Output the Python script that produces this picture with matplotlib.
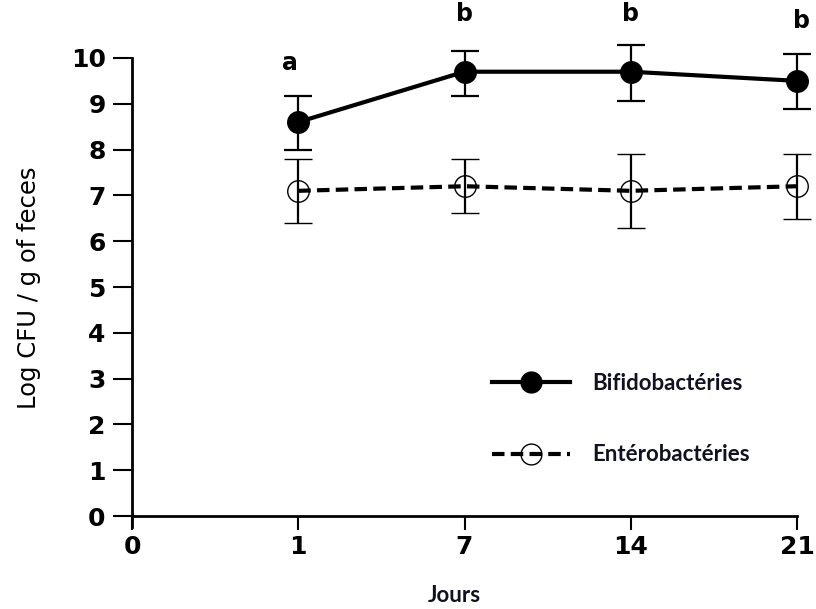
import matplotlib
matplotlib.use('Agg')
import matplotlib.pyplot as plt
from matplotlib.lines import Line2D

# Donnees
jours = ['0', '1', '7', '14', '21']
jours_mesure = ['1', '7', '14', '21']

bifido = [8.6, 9.7, 9.7, 9.5]
bifido_bas = [8.0, 9.17, 9.06, 8.89]
bifido_haut = [9.17, 10.15, 10.28, 10.08]

entero = [7.1, 7.2, 7.1, 7.2]
entero_bas = [6.39, 6.61, 6.29, 6.49]
entero_haut = [7.8, 7.8, 7.9, 7.9]

lettres = ['a', 'b', 'b', 'b']
lettres_y = [9.88, 10.95, 10.95, 10.8]

noms = ['Bifidobactéries', 'Entérobactéries']

fig = plt.figure(figsize=(8.16, 6.09), dpi=100)
ax = fig.add_axes([0.1618, 0.1346, 0.8149, 0.7702])

x = [jours.index(j) for j in jours_mesure]

# Bifidobacteries : trait plein, points pleins
err_b = [[v - b for v, b in zip(bifido, bifido_bas)],
         [h - v for v, h in zip(bifido, bifido_haut)]]
eb = ax.errorbar(x, bifido, yerr=err_b, color='black', lw=3, marker='o',
                 ms=15.5, mfc='black', mec='black', ecolor='black',
                 elinewidth=1.6, capsize=10, capthick=1.6, zorder=3)
for art in eb.get_children():
    art.set_clip_on(False)

# Enterobacteries : tirets, cercles vides
err_e = [[v - b for v, b in zip(entero, entero_bas)],
         [h - v for v, h in zip(entero, entero_haut)]]
ee = ax.errorbar(x, entero, yerr=err_e, color='black', lw=3, ls=(0, (3, 1.5)),
                 marker='o', ms=15.5, mfc='none', mec='black', mew=1.0,
                 ecolor='black', elinewidth=1.6, capsize=10, capthick=1.6,
                 zorder=3)
for art in ee.get_children():
    art.set_clip_on(False)

# lettres de significativite
for xi, lt, ly in zip(x, lettres, lettres_y):
    dx = -0.05 if lt == 'a' else 0.0
    if xi == 4:
        dx = 0.03
    ax.text(xi + dx, ly, lt, ha='center', va='center', fontsize=17,
            fontweight='bold', family='DejaVu Sans', clip_on=False)

ax.set_xlim(0, 4)
ax.set_ylim(-0.24, 10)
ax.set_xticks(range(len(jours)))
ax.set_xticklabels(jours)
ax.set_yticks(range(0, 11))

ax.spines['top'].set_visible(False)
ax.spines['right'].set_visible(False)
ax.spines['bottom'].set_position(('data', 0))
ax.spines['left'].set_linewidth(2)
ax.spines['bottom'].set_linewidth(2)

ax.tick_params(axis='y', direction='out', length=14, width=1.5,
               labelsize=18, pad=5)
ax.tick_params(axis='x', direction='out', length=10, width=1.5,
               labelsize=18, pad=4)
for lab in ax.get_xticklabels() + ax.get_yticklabels():
    lab.set_family('DejaVu Sans')
    lab.set_fontweight('bold')

ax.set_ylabel('Log CFU / g of feces', fontsize=17.5,
              family=['Liberation Sans Narrow', 'DejaVu Sans'])
ax.yaxis.set_label_coords(-0.137, 0.51)

fig.text(454 / 816, 1 - 596 / 609, 'Jours', ha='center', va='center',
         fontsize=16, fontweight='bold', family=['Lato', 'DejaVu Sans'],
         color='#111122')

handles = [
    Line2D([], [], color='black', lw=3, marker='o', ms=15, mfc='black'),
    Line2D([], [], color='black', lw=3, ls=(0, (3, 1.5)), marker='o', ms=15,
           mfc='none', mec='black', mew=1.0),
]
leg = fig.legend(handles, noms, loc='upper left',
                 bbox_to_anchor=(492 / 816, 1 - 373 / 609), frameon=False,
                 borderpad=0, borderaxespad=0, handlelength=3.5,
                 handletextpad=1.0, labelspacing=2.27, numpoints=1,
                 prop={'family': ['Lato', 'DejaVu Sans'], 'weight': 'bold',
                       'size': 16})
for t in leg.get_texts():
    t.set_color('#111122')

fig.savefig('out.png', dpi=100)
